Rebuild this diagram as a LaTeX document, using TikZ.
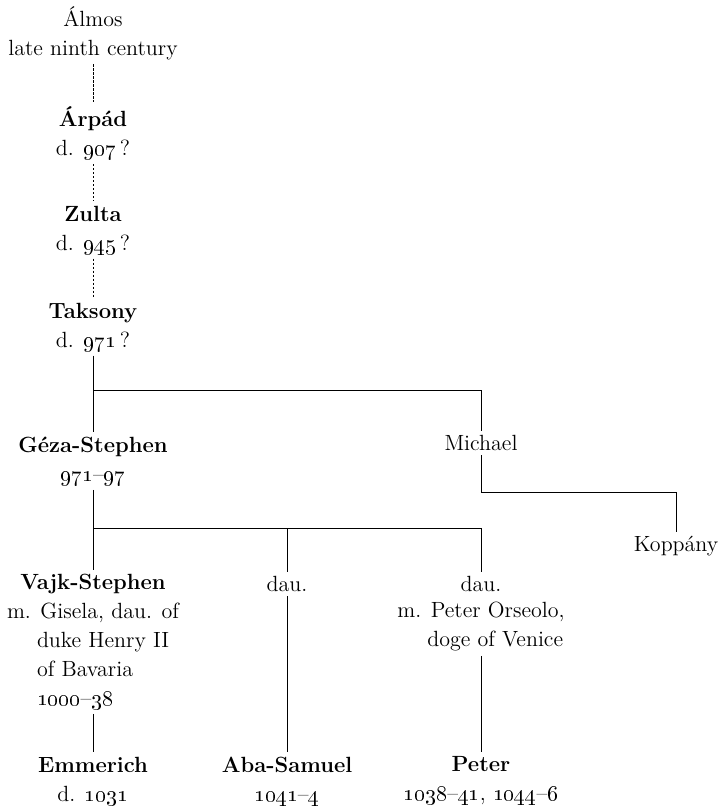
\documentclass[tikz,border=0pt]{standalone}
\usepackage{tikz}
\usetikzlibrary{positioning, calc}

\newcommand{\osn}[1]{\oldstylenums{#1}}

\begin{document}
\begin{tikzpicture}[
  x=0.5pt, y=-0.5pt,
  every node/.style={font=\fontsize{11}{14.5}\selectfont},
  %% family tree styles
  person/.style={align=center, inner sep=2pt},
  note/.style={align=left, inner sep=2pt},
  kin/.style={line width=0.5pt},
  dim/.style={line width=0.5pt, dash pattern=on 1.2pt off 0.8pt},
]
\useasboundingbox (0,0) rectangle (723,809);

%% =========================================================
%% DESCENT OF THE LINE — uncertain links
%% =========================================================
\node[person] (almos)   at (93, 33)  {Álmos\\late ninth century};
\node[person] (arpad)   at (93,133)  {\textbf{Árpád}\\d. \osn{907}\,?};
\node[person] (zulta)   at (93,230)  {\textbf{Zulta}\\d. \osn{945}\,?};
\node[person] (taksony) at (93,327)  {\textbf{Taksony}\\d. \osn{971}\,?};

\draw[dim] (almos.south) -- (arpad.north);
\draw[dim] (arpad.south) -- (zulta.north);
\draw[dim] (zulta.south) -- (taksony.north);

%% =========================================================
%% SONS OF TAKSONY
%% =========================================================
\node[person] (geza)    at (93,461)  {\textbf{Géza-Stephen}\\\osn{971}--\osn{97}};
\node[person] (michael) at (481,443) {Michael};
\node[person] (koppany) at (676,546) {Koppány};

\coordinate (forkA) at (93,390);
\draw[kin] (taksony.south) -- (geza.north);
\draw[kin] (forkA) -| (michael.north);

\coordinate (forkM) at (481,492);
\draw[kin] (michael.south) -- (forkM) -| (koppany.north);

%% =========================================================
%% CHILDREN OF GÉZA
%% =========================================================
\node[person] (vajk)     at (93,584)  {\textbf{Vajk-Stephen}};
\node[note]   (vajknote) at (93,656)
  {m. Gisela, dau. of\\
   \hspace*{15pt}duke Henry II\\
   \hspace*{15pt}of Bavaria\\
   \hspace*{15pt}\osn{1000}--\osn{38}};
\node[person] (dauA)     at (287,584) {dau.};
\node[person] (dauB)     at (481,584) {dau.};
\node[note]   (daunote)  at (481,627)
  {m. Peter Orseolo,\\
   \hspace*{15pt}doge of Venice};

\coordinate (forkG) at (93,528);
\draw[kin] (geza.south) -- (vajk.north);
\draw[kin] (forkG) -| (dauB.north);
\draw[kin] (forkG -| dauA.north) -- (dauA.north);

%% =========================================================
%% GRANDCHILDREN
%% =========================================================
\node[person] (emmerich) at (93,781)  {\textbf{Emmerich}\\d. \osn{1031}};
\node[person] (aba)      at (287,781) {\textbf{Aba-Samuel}\\\osn{1041}--\osn{4}};
\node[person] (peter)    at (481,781) {\textbf{Peter}\\\osn{1038}--\osn{41}, \osn{1044}--\osn{6}};

\draw[kin] (vajknote.south) -- (emmerich.north);
\draw[kin] (dauA.south) -- (aba.north);
\draw[kin] (daunote.south -| dauB) -- (peter.north);

\end{tikzpicture}
\end{document}
